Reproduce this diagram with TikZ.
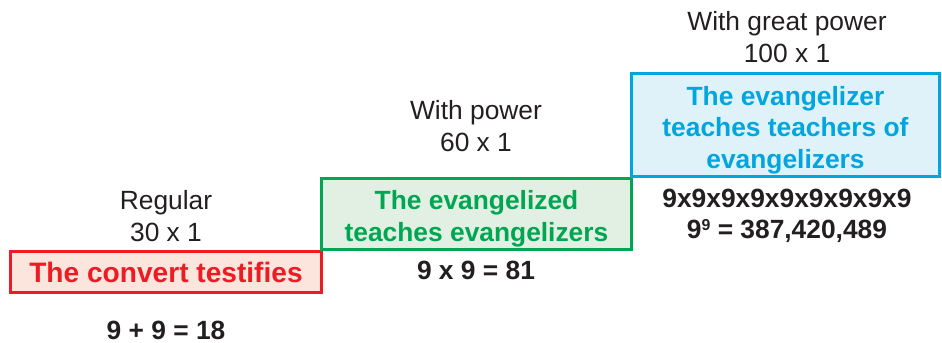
\documentclass[tikz,border=0pt]{standalone}
\usepackage{fontspec}
\setmainfont{Liberation Sans}
\usetikzlibrary{positioning}
\definecolor{ink}{HTML}{231F20}
\definecolor{convred}{HTML}{ED1C24}
\definecolor{convfill}{HTML}{FCE5DC}
\definecolor{evgreen}{HTML}{00A651}
\definecolor{evgfill}{HTML}{E2F0E4}
\definecolor{evblue}{HTML}{00A6DD}
\definecolor{evbfill}{HTML}{DFF1F9}
\newcommand{\topstrut}{\rule{0pt}{16.6pt}}

\begin{document}
\begin{tikzpicture}[x=0.02cm,y=-0.02cm,
		lbl/.style={align=center,text=ink,inner sep=0pt,font=\fontsize{15}{18}\selectfont},
		total/.style={lbl,font=\fontsize{15}{18}\selectfont\bfseries},
		stage/.style={draw,line width=1.8pt,inner sep=0pt,align=center,font=\fontsize{15}{18}\selectfont\bfseries}]
		\useasboundingbox (0,0) rectangle (942,342);
		% the three boxes
		\draw (166,272) node[stage,draw=convred,fill=convfill,text=convred,font=\fontsize{16}{18}\selectfont\bfseries,minimum width=6.22cm,minimum height=0.82cm] (convert){The convert testifies}
		(476.5,214) node[stage,draw=evgreen,fill=evgfill,text=evgreen,minimum width=6.2cm,minimum height=1.42cm] (evangelized) {\topstrut The evangelized\\teaches evangelizers}
		(785.5,125) node[stage,draw=evblue,fill=evbfill,text=evblue,minimum width=6.16cm,minimum height=2.06cm] (evangelizer) {\topstrut The evangelizer\\teaches teachers of\\evangelizers};
		% labels above
		\draw (166,216) node[lbl] (regular) {Regular\\30 x 1}
		(476,126) node[lbl] (power) {With power\\60 x 1}
		(787,37) node[lbl] (greatpower) {With great power\\100 x 1};
		% totals below
		\draw (166,330) node[total] (sum1) {9 + 9 = 18}
		(476,270) node[total] (sum2) {9 x 9 = 81}
		(787,216) node[total] (sum3) {9x9x9x9x9x9x9x9x9\\9{\fontsize{9}{9}\selectfont\raisebox{5pt}{9}} = 387,420,489};
	\end{tikzpicture}
\end{document}
